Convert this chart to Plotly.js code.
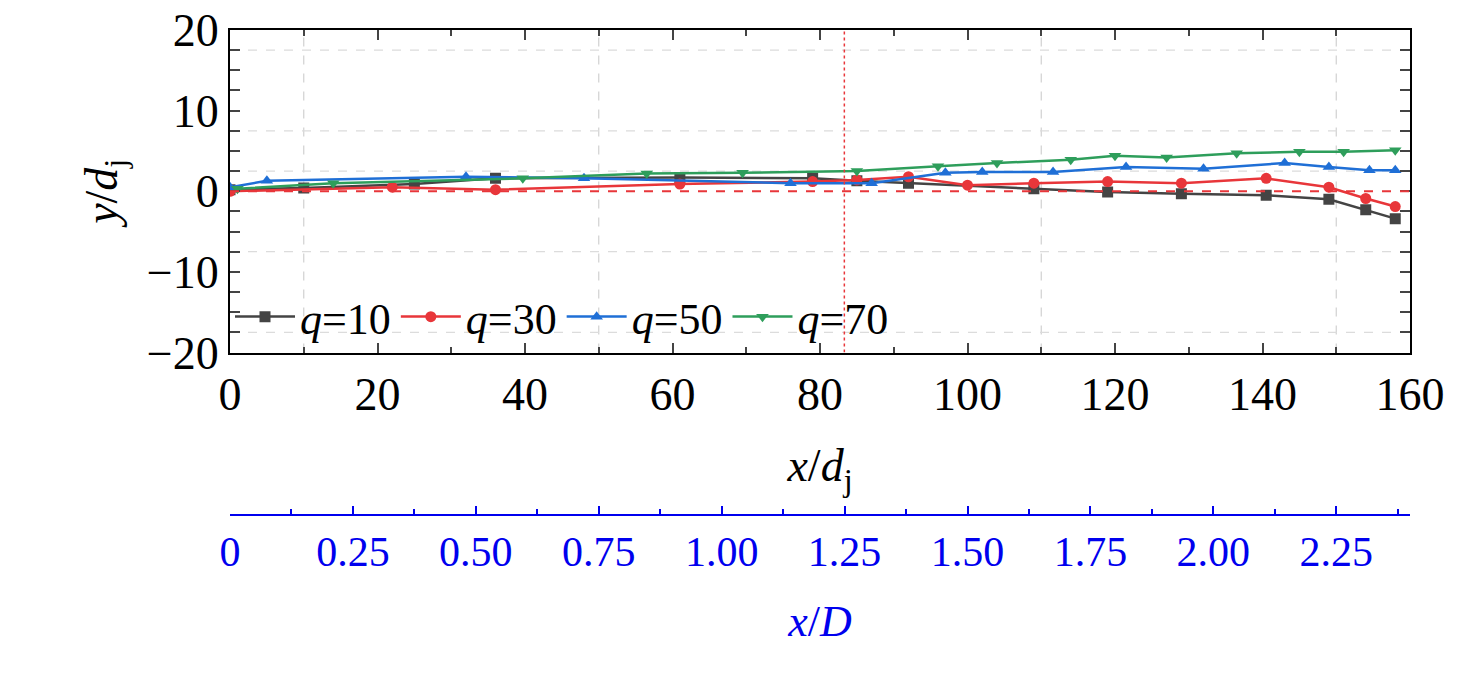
<!DOCTYPE html>
<html>
<head>
<meta charset="utf-8">
<script src="https://cdn.plot.ly/plotly-3.0.1.min.js"></script>
<style>body{margin:0;background:#fff}</style>
</head>
<body>
<div id="chart" style="width:1476px;height:695px"></div>
<script>
const x10 = [0, 10, 25, 36, 61, 79, 85, 92, 109, 119, 129, 140.5, 149, 154, 158];
const y10 = [0.2, 0.4, 0.9, 1.6, 1.7, 1.6, 1.3, 1.0, 0.3, -0.1, -0.3, -0.5, -1.0, -2.3, -3.4];
const x30 = [0, 22, 36, 61, 79, 85, 92, 100, 109, 119, 129, 140.5, 149, 154, 158];
const y30 = [0, 0.5, 0.2, 0.9, 1.2, 1.4, 1.8, 0.75, 1.0, 1.2, 1.0, 1.6, 0.5, -0.9, -1.9];
const x50 = [0, 5, 32, 48, 76, 87, 97, 102, 111.6, 121.5, 132, 143, 149, 154.5, 158];
const y50 = [0.5, 1.3, 1.8, 1.6, 1.0, 1.0, 2.3, 2.4, 2.4, 3.0, 2.8, 3.5, 3.0, 2.6, 2.6];
const x70 = [1, 14, 39.7, 56.5, 69.5, 85, 96, 104, 114, 120, 127, 136.5, 145, 151, 158];
const y70 = [0.3, 1.0, 1.6, 2.2, 2.3, 2.5, 3.1, 3.5, 3.9, 4.4, 4.2, 4.7, 4.9, 4.9, 5.1];
const xdTicks = [0, 0.25, 0.5, 0.75, 1.0, 1.25, 1.5, 1.75, 2.0, 2.25];
const xdLabels = ["0", "0.25", "0.50", "0.75", "1.00", "1.25", "1.50", "1.75", "2.00", "2.25"];
const gridX = [10, 50, 110, 150];
const gridY = [17.5, 7.5, 2.5, -7.5, -17.5];
const xJet = 83.3;

function series(x, y, name, color, symbol) {
  return {x: x, y: y, name: "<i>q</i>=" + name.slice(2), type: "scatter", mode: "lines+markers",
    line: {color: color, width: 2.5}, marker: {color: color, symbol: symbol, size: 11}};
}
const data = [
  series(x10, y10, "q=10", "#444444", "square"),
  series(x30, y30, "q=30", "#e8363a", "circle"),
  series(x50, y50, "q=50", "#1f6fd6", "triangle-up"),
  series(x70, y70, "q=70", "#2e9e5b", "triangle-down"),
  {x: [0, 160], y: [0, 0], xaxis: "x2", mode: "none", showlegend: false, hoverinfo: "skip"}
];

const shapes = [];
gridX.forEach(v => shapes.push({type: "line", xref: "x", yref: "y", x0: v, x1: v, y0: -20, y1: 20,
  line: {color: "#d0d0d0", width: 1.2, dash: "dash"}, layer: "below"}));
gridY.forEach(v => shapes.push({type: "line", xref: "x", yref: "y", x0: 0, x1: 160, y0: v, y1: v,
  line: {color: "#dcdcdc", width: 1.2, dash: "dash"}, layer: "below"}));
shapes.push({type: "line", xref: "x", yref: "y", x0: 0, x1: 160, y0: 0, y1: 0,
  line: {color: "#e8363a", width: 2, dash: "dash"}});
shapes.push({type: "line", xref: "x", yref: "y", x0: xJet, x1: xJet, y0: -20, y1: 20,
  line: {color: "#e8363a", width: 1.5, dash: "dot"}});

const font = {family: "Liberation Serif", size: 46, color: "#000"};
const layout = {
  width: 1476, height: 695,
  margin: {l: 230, r: 66, t: 30, b: 20},
  paper_bgcolor: "#fff", plot_bgcolor: "#fff",
  font: font,
  showlegend: true,
  legend: {orientation: "h", x: 0.0, y: 0.555, yanchor: "middle", xref: "paper", yref: "paper",
    font: {family: "Liberation Serif", size: 44}, bgcolor: "rgba(0,0,0,0)", itemwidth: 60},
  xaxis: {range: [0, 160], dtick: 20, ticks: "inside", ticklen: 10, tickwidth: 2, mirror: "allticks",
    minor: {dtick: 10, ticks: "inside", ticklen: 6, tickwidth: 2},
    showline: true, linewidth: 2, linecolor: "#000", showgrid: false, zeroline: false,
    anchor: "y", title: {text: "<i>x</i>/<i>d</i><sub>j</sub>", font: font, standoff: 30}},
  yaxis: {range: [-20, 20], dtick: 10, ticks: "inside", ticklen: 10, tickwidth: 2, mirror: "allticks",
    minor: {dtick: 2.5, ticks: "inside", ticklen: 6, tickwidth: 2},
    domain: [0.5, 1], showline: true, linewidth: 2, linecolor: "#000", showgrid: false, zeroline: false,
    tickformat: "d", title: {text: "<i>y</i>/<i>d</i><sub>j</sub>", font: font, standoff: 15}},
  xaxis2: {range: [0, 2.4], overlaying: "x", anchor: "free", position: 0.248, side: "bottom",
    tickvals: xdTicks, ticktext: xdLabels, ticks: "inside", ticklen: 8, tickwidth: 2,
    minor: {dtick: 0.125, ticks: "inside", ticklen: 5, tickwidth: 2},
    showline: true, linewidth: 2, linecolor: "#0000ee", tickcolor: "#0000ee", showgrid: false, zeroline: false,
    tickfont: {family: "Liberation Serif", size: 42, color: "#0000ee"},
    title: {text: "<i>x</i>/<i>D</i>", font: {family: "Liberation Serif", size: 44, color: "#0000ee"}, standoff: 30}},
  shapes: shapes
};
Plotly.newPlot("chart", data, layout, {displayModeBar: false});
</script>
</body>
</html>
